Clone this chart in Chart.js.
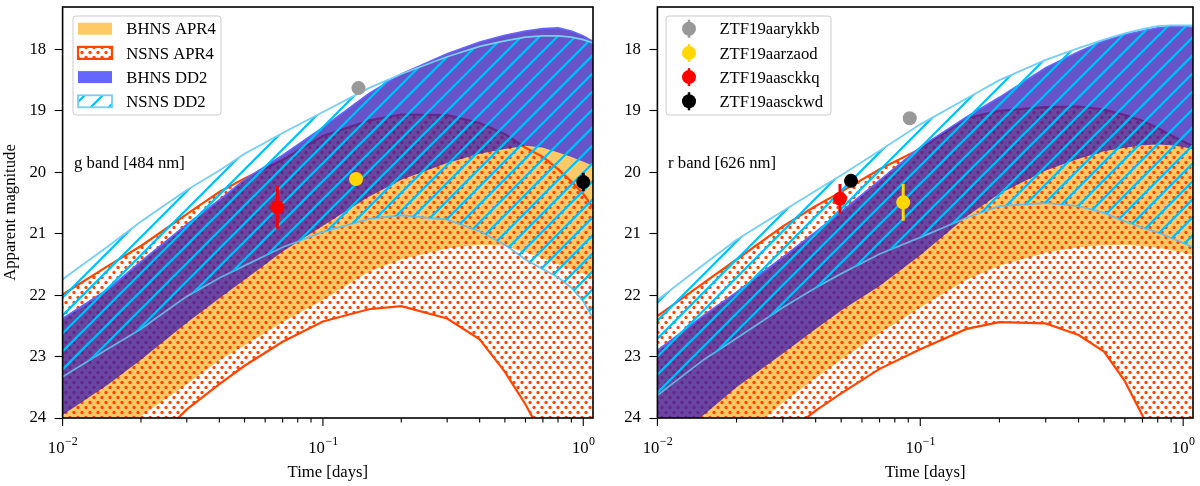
<!DOCTYPE html>
<html>
<head>
<meta charset="utf-8">
<script src="https://cdn.jsdelivr.net/npm/chart.js@4.4.1/dist/chart.umd.min.js"></script>
<style>
  body { margin: 0; background: #fff; }
  #wrap { position: relative; width: 1200px; height: 486px; }
  canvas { position: absolute; top: 0; }
</style>
</head>
<body>
<div id="wrap">
  <canvas id="gband" width="600" height="486" style="left:0"></canvas>
  <canvas id="rband" width="600" height="486" style="left:600px"></canvas>
</div>
<script>
// time grid (days) shared by every model curve
const times = [0.01, 0.015, 0.02, 0.03, 0.04, 0.05, 0.07, 0.1, 0.15, 0.2, 0.3, 0.4, 0.5, 0.6, 0.7, 0.8, 0.9, 1.0, 1.1];

// g band [484 nm] model envelopes (magnitudes)
const gBhnsApr4Top = [22.41, 21.93, 21.48, 20.88, 20.48, 20.15, 19.80, 19.41, 19.16, 19.06, 19.07, 19.20, 19.38, 19.57, 19.60, 19.68, 19.75, 19.83, 19.90];
const gBhnsApr4Bot = [25.2, 24.5, 23.97, 23.45, 23.06, 22.82, 22.44, 22.08, 21.62, 21.42, 21.24, 21.18, 21.20, 21.30, 21.40, 21.50, 21.58, 21.65, 21.73];
const gNsnsApr4Top = [21.99, 21.52, 21.20, 20.68, 20.32, 20.10, 19.80, 19.41, 19.16, 19.06, 19.07, 19.20, 19.38, 19.60, 19.75, 19.95, 20.15, 20.35, 20.60];
const gNsnsApr4Bot = [25.8, 25.1, 24.6, 23.86, 23.45, 23.15, 22.76, 22.43, 22.23, 22.18, 22.38, 22.72, 23.25, 23.78, 24.3, 24.8, 25.2, 25.6, 26.0];
const gBhnsDd2Top = [22.38, 21.90, 21.45, 20.85, 20.45, 20.12, 19.72, 19.27, 18.72, 18.40, 18.07, 17.88, 17.77, 17.70, 17.66, 17.65, 17.70, 17.78, 17.88];
const gBhnsDd2Bot = [23.95, 23.45, 23.05, 22.45, 22.05, 21.75, 21.29, 20.87, 20.40, 20.12, 19.85, 19.70, 19.62, 19.57, 19.60, 19.68, 19.75, 19.83, 19.90];
const gNsnsDd2Top = [21.74, 21.20, 20.80, 20.29, 19.97, 19.70, 19.36, 19.02, 18.63, 18.40, 18.12, 17.95, 17.86, 17.80, 17.78, 17.78, 17.80, 17.84, 17.90];
const gNsnsDd2Bot = [23.33, 22.87, 22.55, 22.02, 21.72, 21.52, 21.22, 20.97, 20.76, 20.70, 20.77, 20.96, 21.18, 21.42, 21.58, 21.71, 21.88, 22.10, 22.40];

// r band [626 nm] model envelopes (magnitudes)
const rBhnsApr4Top = [22.93, 22.36, 21.98, 21.41, 21.00, 20.67, 20.16, 19.62, 19.12, 19.00, 18.94, 18.93, 18.98, 19.07, 19.16, 19.28, 19.40, 19.50, 19.58];
const rBhnsApr4Bot = [25.5, 24.85, 24.4, 23.75, 23.35, 23.05, 22.62, 22.2, 21.75, 21.52, 21.31, 21.22, 21.19, 21.18, 21.2, 21.23, 21.27, 21.31, 21.35];
const rNsnsApr4Top = [22.34, 21.80, 21.42, 20.88, 20.55, 20.32, 19.95, 19.62, 19.12, 19.00, 18.94, 18.93, 18.98, 19.07, 19.16, 19.28, 19.40, 19.50, 19.58];
const rNsnsApr4Bot = [26.0, 25.3, 24.85, 24.3, 23.88, 23.6, 23.2, 22.88, 22.55, 22.44, 22.46, 22.65, 22.92, 23.40, 23.96, 24.5, 25.0, 25.5, 26.0];
const rBhnsDd2Top = [22.90, 22.33, 21.95, 21.38, 20.97, 20.64, 20.13, 19.59, 19.10, 18.78, 18.30, 18.04, 17.86, 17.76, 17.70, 17.65, 17.63, 17.63, 17.64];
const rBhnsDd2Bot = [24.45, 23.95, 23.5, 22.95, 22.55, 22.25, 21.85, 21.35, 20.72, 20.35, 19.97, 19.78, 19.66, 19.60, 19.56, 19.55, 19.56, 19.59, 19.63];
const rNsnsDd2Top = [22.08, 21.50, 21.10, 20.63, 20.30, 20.05, 19.65, 19.22, 18.80, 18.50, 18.17, 17.98, 17.84, 17.74, 17.67, 17.62, 17.61, 17.61, 17.61];
const rNsnsDd2Bot = [23.63, 23.05, 22.70, 22.20, 21.88, 21.65, 21.33, 21.06, 20.74, 20.55, 20.50, 20.55, 20.66, 20.80, 20.90, 20.98, 21.07, 21.15, 21.23];

// ZTF candidates
const ztfNames = ['ZTF19aarykkb', 'ZTF19aarzaod', 'ZTF19aasckkq', 'ZTF19aasckwd'];
const ztfColors = ['#999999', '#ffd700', '#ff0000', '#000000'];
const gObsTime = [0.137, 0.134, 0.0668, 1.0];
const gObsMag = [18.63, 20.11, 20.57, 20.16];
const gObsErr = [0.05, 0.06, 0.35, 0.15];
const rObsTime = [0.0912, 0.0861, 0.0495, 0.0545];
const rObsMag = [19.12, 20.49, 20.43, 20.14];
const rObsErr = [0.05, 0.30, 0.24, 0.08];

const bandNames = ['BHNS APR4', 'NSNS APR4', 'BHNS DD2', 'NSNS DD2'];

const FONT = 'Liberation Serif';
const ORANGE = 'rgba(255,165,0,0.6)';
const BLUE = 'rgba(54,27,182,0.75)';
const BLUE_LEGEND = 'rgba(0,0,255,0.6)';
const RED_EDGE = '#ff4500';
const SKY_EDGE = '#74cff5';

Chart.defaults.font.family = FONT;

// staggered dot hatch, like matplotlib '..'
function makeDots(ctx) {
    const c = document.createElement('canvas');
    c.width = 8; c.height = 10;
    const x = c.getContext('2d');
    x.fillStyle = RED_EDGE;
    [[2, 2.5], [6, 7.5]].forEach(([px, py]) => {
        x.beginPath(); x.arc(px, py, 1.65, 0, Math.PI * 2); x.fill();
    });
    return ctx.createPattern(c, 'repeat');
}

function makeHatch(ctx) {
    const n = 18;
    const c = document.createElement('canvas');
    c.width = n; c.height = n;
    const x = c.getContext('2d');
    x.strokeStyle = '#00bfff';
    x.lineWidth = 2.2;
    x.beginPath();
    x.moveTo(-2, n + 2); x.lineTo(n + 2, -2);
    x.moveTo(-2, 2); x.lineTo(2, -2);
    x.moveTo(n - 2, n + 2); x.lineTo(n + 2, n - 2);
    x.stroke();
    return ctx.createPattern(c, 'repeat');
}

const pts = (arr) => times.map((t, i) => ({x: t, y: arr[i]}));

function curve(arr, extra) {
    return Object.assign({
        data: pts(arr), pointRadius: 0, borderWidth: 0,
        borderColor: 'transparent', fill: false, tension: 0
    }, extra);
}

// frame, x ticks with powers of ten, band label and legend
function makeDecor(cfg) {
    return {
        id: 'panelDecor',
        afterDatasetsDraw(chart) {
            const ctx = chart.ctx;
            const a = chart.chartArea;
            const xs = chart.scales.x;
            ctx.save();

            // x ticks
            ctx.strokeStyle = '#000';
            ctx.lineWidth = 1.1;
            xs.ticks.forEach(t => {
                const lg = Math.log10(t.value);
                const major = Math.abs(lg - Math.round(lg)) < 1e-9;
                const px = xs.getPixelForValue(t.value);
                ctx.beginPath();
                ctx.moveTo(px, a.bottom);
                ctx.lineTo(px, a.bottom + (major ? 8 : 4.5));
                ctx.stroke();
                if (major) {
                    const e = Math.round(lg);
                    const expTxt = e < 0 ? '\u2212' + (-e) : String(e);
                    ctx.fillStyle = '#000';
                    ctx.textBaseline = 'alphabetic';
                    ctx.textAlign = 'left';
                    ctx.font = `16.7px "${FONT}"`;
                    const w1 = ctx.measureText('10').width;
                    ctx.font = `12px "${FONT}"`;
                    const w2 = ctx.measureText(expTxt).width;
                    const x0 = px - (w1 + w2) / 2;
                    ctx.font = `16.7px "${FONT}"`;
                    ctx.fillText('10', x0, a.bottom + 35);
                    ctx.font = `12px "${FONT}"`;
                    ctx.fillText(expTxt, x0 + w1 + 0.5, a.bottom + 27);
                }
            });

            // frame
            ctx.lineWidth = 1.6;
            ctx.strokeRect(a.left, a.top, a.right - a.left, a.bottom - a.top);

            // band annotation
            ctx.fillStyle = '#000';
            ctx.font = `16.7px "${FONT}"`;
            ctx.textAlign = 'left';
            ctx.textBaseline = 'alphabetic';
            ctx.fillText(cfg.bandText, a.left + cfg.bandDx, a.top + 161);

            // legend
            const bx = a.left + cfg.legDx, by = a.top + 9;
            ctx.fillStyle = 'rgba(255,255,255,0.8)';
            ctx.strokeStyle = '#cccccc';
            ctx.lineWidth = 1;
            ctx.beginPath();
            ctx.roundRect(bx, by, cfg.legW, 99, 3);
            ctx.fill();
            ctx.stroke();
            cfg.entries.forEach((en, i) => {
                const base = a.top + 27.3 + i * 24.2;
                const cy = base - 5.6;
                if (en.marker) {
                    const mx = a.left + 31.6;
                    ctx.strokeStyle = en.color;
                    ctx.lineWidth = 2.5;
                    ctx.beginPath();
                    ctx.moveTo(mx, cy - 9); ctx.lineTo(mx, cy + 9);
                    ctx.stroke();
                    ctx.fillStyle = en.color;
                    ctx.beginPath();
                    ctx.arc(mx, cy, 7, 0, Math.PI * 2);
                    ctx.fill();
                } else {
                    const px = a.left + 15.4;
                    ctx.fillStyle = '#fff';
                    ctx.fillRect(px, cy - 6, 34, 12);
                    ctx.fillStyle = en.fill;
                    ctx.fillRect(px, cy - 6, 34, 12);
                    if (en.edge) {
                        ctx.strokeStyle = en.edge;
                        ctx.lineWidth = en.edgeWidth;
                        ctx.strokeRect(px, cy - 6, 34, 12);
                    }
                }
                ctx.fillStyle = '#000';
                ctx.font = `16.7px "${FONT}"`;
                ctx.textAlign = 'left';
                ctx.textBaseline = 'alphabetic';
                ctx.fillText(en.label, a.left + cfg.textDx, base);
            });
            ctx.restore();
        }
    };
}

function makeChart(id, c, obs, cfg) {
    const ctx = document.getElementById(id).getContext('2d');
    const dots = makeDots(ctx);
    const hatch = makeHatch(ctx);

    const datasets = [
        curve(c.orTop, {fill: '+1', backgroundColor: ORANGE, order: 50}),
        curve(c.orBot, {order: 50}),
        curve(c.apTop, {fill: '+1', backgroundColor: dots, borderColor: RED_EDGE, borderWidth: 2.2, order: 40}),
        curve(c.apBot, {borderColor: RED_EDGE, borderWidth: 2.2, order: 40}),
        curve(c.blTop, {fill: '+1', backgroundColor: BLUE, borderColor: '#6464ff', borderWidth: 1.6, order: 30}),
        curve(c.blBot, {order: 30}),
        curve(c.ddTop, {fill: '+1', backgroundColor: hatch, borderColor: SKY_EDGE, borderWidth: 1.8, order: 20}),
        curve(c.ddBot, {borderColor: 'rgba(100,190,235,0.9)', borderWidth: 1.8, order: 20})
    ];

    // error bars and markers
    obs.time.forEach((t, i) => {
        datasets.push({
            data: [{x: t, y: obs.mag[i] - obs.err[i]}, {x: t, y: obs.mag[i] + obs.err[i]}],
            borderColor: ztfColors[i], borderWidth: 3, pointRadius: 0, fill: false, order: 6
        });
        datasets.push({
            data: [{x: t, y: obs.mag[i]}], showLine: false, pointRadius: 7,
            pointBackgroundColor: ztfColors[i], pointBorderColor: ztfColors[i], pointBorderWidth: 0, order: 5
        });
    });

    cfg.entries = cfg.legendType === 'bands' ? [
        {label: bandNames[0], fill: ORANGE},
        {label: bandNames[1], fill: dots, edge: RED_EDGE, edgeWidth: 2.2},
        {label: bandNames[2], fill: BLUE_LEGEND},
        {label: bandNames[3], fill: hatch, edge: SKY_EDGE, edgeWidth: 1.8}
    ] : ztfNames.map((n, i) => ({label: n, marker: true, color: ztfColors[i]}));

    return new Chart(ctx, {
        type: 'line',
        data: {datasets},
        options: {
            responsive: false,
            animation: false,
            events: [],
            layout: {padding: {top: 3, right: cfg.padRight, left: 0, bottom: 0}},
            plugins: {legend: {display: false}, tooltip: {enabled: false}},
            scales: {
                x: {
                    type: 'logarithmic', min: 0.01, max: 1.09,
                    afterBuildTicks: (s) => {
                        s.ticks = s.ticks.filter(t => {
                            const sig = t.value / Math.pow(10, Math.floor(Math.log10(t.value) + 1e-9));
                            return Math.abs(sig - Math.round(sig)) < 1e-6 && Math.round(sig) < 10;
                        });
                    },
                    afterFit: (s) => { s.height = 68; s.paddingLeft = 0; s.paddingRight = 0; },
                    ticks: {display: false},
                    grid: {display: false},
                    border: {display: false},
                    title: {display: true, text: 'Time [days]', color: '#000',
                            font: {family: FONT, size: 16.7}, padding: {top: 0, bottom: 3}}
                },
                y: {
                    type: 'linear', reverse: true, min: 17.31, max: 24,
                    afterBuildTicks: (s) => {
                        s.ticks = s.ticks.filter(t => Math.abs(t.value - Math.round(t.value)) < 1e-6 && t.value >= 18);
                    },
                    afterFit: (s) => { s.width = cfg.yWidth; s.paddingTop = 0; s.paddingBottom = 0; },
                    ticks: {stepSize: 1, color: '#000', font: {family: FONT, size: 16.7}, padding: 8.5},
                    grid: {drawOnChartArea: false, tickLength: 8, tickColor: '#000', tickWidth: 1.1},
                    border: {display: false},
                    title: {display: cfg.yTitle, text: 'Apparent magnitude', color: '#000',
                            font: {family: FONT, size: 16.7}, padding: {top: 0.5, bottom: 0}}
                }
            }
        },
        plugins: [makeDecor(cfg)]
    });
}

makeChart('gband',
    {orTop: gBhnsApr4Top, orBot: gBhnsApr4Bot, apTop: gNsnsApr4Top, apBot: gNsnsApr4Bot,
     blTop: gBhnsDd2Top, blBot: gBhnsDd2Bot, ddTop: gNsnsDd2Top, ddBot: gNsnsDd2Bot},
    {time: gObsTime, mag: gObsMag, err: gObsErr},
    {padRight: 1.5, yWidth: 62.6, yTitle: true, bandText: 'g band [484 nm]', bandDx: 11.5,
     legendType: 'bands', legDx: 10.4, legW: 148, textDx: 63.7});

makeChart('rband',
    {orTop: rBhnsApr4Top, orBot: rBhnsApr4Bot, apTop: rNsnsApr4Top, apBot: rNsnsApr4Bot,
     blTop: rBhnsDd2Top, blBot: rBhnsDd2Bot, ddTop: rNsnsDd2Top, ddBot: rNsnsDd2Bot},
    {time: rObsTime, mag: rObsMag, err: rObsErr},
    {padRight: 6, yWidth: 57.4, yTitle: false, bandText: 'r band [626 nm]', bandDx: 10.7,
     legendType: 'markers', legDx: 8.6, legW: 165, textDx: 62});
</script>
</body>
</html>
